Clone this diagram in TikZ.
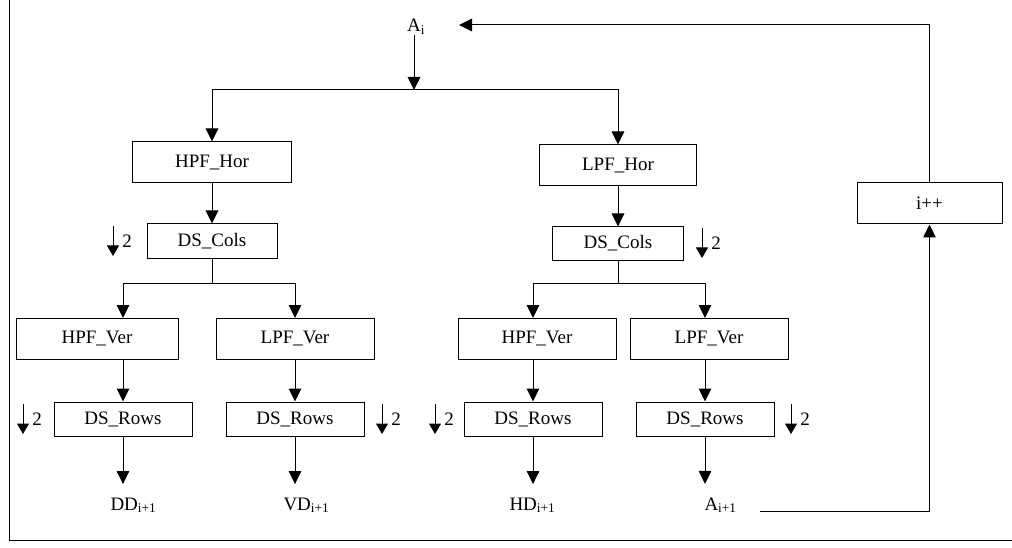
\documentclass[tikz,border=0pt]{standalone}
\usepackage{fontspec}
\setmainfont{Liberation Serif}
\usetikzlibrary{arrows.meta, positioning}

\tikzset{
  block/.style={draw, line width=1pt, inner sep=0pt},
  tip/.style={-{Triangle[length=13pt,width=12.5pt]}},
  smalltip/.style={-{Triangle[length=10.5pt,width=12pt]}},
  label/.style={inner sep=0pt, anchor=base west},
  halfmark/.style={inner sep=0pt},
}

\begin{document}
\begin{tikzpicture}[x=1pt, y=-1pt, line width=1pt, font=\fontsize{19}{22}\selectfont]

\useasboundingbox (0,0) rectangle (1012,548);
\draw (9,0) -- (9,540) -- (1012,540);

% input and first split
\node[inner sep=0pt] (Ai) at (416,27) {A\textsubscript{i}};
\coordinate (split) at (414,90);
\coordinate (back) at (459,25);

\node[block, minimum width=159pt, minimum height=41pt] (hpfhor) at (212,162.5) {HPF\_Hor};
\node[block, minimum width=157pt, minimum height=41pt] (lpfhor) at (618,165.5) {LPF\_Hor};

\node[block, minimum width=130pt, minimum height=34pt] (dscolsL) at (212,241) {DS\_Cols};
\node[block, minimum width=131pt, minimum height=33pt] (dscolsR) at (618,243.5) {DS\_Cols};

\node[block, minimum width=162pt, minimum height=41pt] (hpfverA) at (97,339) {HPF\_Ver};
\node[block, minimum width=158pt, minimum height=41pt] (lpfverA) at (295,339) {LPF\_Ver};
\node[block, minimum width=158pt, minimum height=41pt] (hpfverB) at (537,339) {HPF\_Ver};
\node[block, minimum width=158pt, minimum height=41pt] (lpfverB) at (709,339) {LPF\_Ver};

\node[block, minimum width=138pt, minimum height=34pt] (dsrowsA) at (123,419) {DS\_Rows};
\node[block, minimum width=138pt, minimum height=34pt] (dsrowsB) at (295,419) {DS\_Rows};
\node[block, minimum width=138pt, minimum height=34pt] (dsrowsC) at (533,419) {DS\_Rows};
\node[block, minimum width=138pt, minimum height=34pt] (dsrowsD) at (705,419) {DS\_Rows};

\node[label] (dd) at (110,510) {DD\textsubscript{i+1}};
\node[label] (vd) at (283,510) {VD\textsubscript{i+1}};
\node[label] (hd) at (509,510) {HD\textsubscript{i+1}};
\node[label] (anext) at (704,510) {A\textsubscript{i+1}};

\node[block, minimum width=145pt, minimum height=41pt] (ipp) at (929.5,203.5) {i++};
\coordinate (loop) at (760,511);

% downsampling marks
\node[halfmark] (two1) at (127,241) {2};
\node[halfmark] (two2) at (716,243) {2};
\node[halfmark] (two3) at (37,419) {2};
\node[halfmark] (two4) at (396,419) {2};
\node[halfmark] (two5) at (449,419) {2};
\node[halfmark] (two6) at (805,419) {2};
\foreach \m in {two1,two2,two3,two4,two5,two6}
  \draw[smalltip] ([xshift=-14pt,yshift=15pt]\m.center) -- ++(0,30);

% connectors
\draw[tip] (Ai.south -| split) -- (split);
\draw[tip] (split) -| (hpfhor.north);
\draw[tip] (split) -| (lpfhor.north);
\draw[tip] (hpfhor) -- (dscolsL);
\draw[tip] (lpfhor) -- (dscolsR);

\coordinate (forkL) at (212,283);
\coordinate (forkR) at (618,283);
\draw (dscolsL) -- (forkL);
\draw (dscolsR) -- (forkR);
\draw[tip] (forkL) -| (dsrowsA |- hpfverA.north);
\draw[tip] (forkL) -| (dsrowsB |- lpfverA.north);
\draw[tip] (forkR) -| (dsrowsC |- hpfverB.north);
\draw[tip] (forkR) -| (dsrowsD |- lpfverB.north);

\draw[tip] (dsrowsA |- hpfverA.south) -- (dsrowsA);
\draw[tip] (dsrowsB |- lpfverA.south) -- (dsrowsB);
\draw[tip] (dsrowsC |- hpfverB.south) -- (dsrowsC);
\draw[tip] (dsrowsD |- lpfverB.south) -- (dsrowsD);

\draw[tip, shorten >=13pt] (dsrowsA) -- (dsrowsA |- dd.north);
\draw[tip, shorten >=13pt] (dsrowsB) -- (dsrowsB |- vd.north);
\draw[tip, shorten >=13pt] (dsrowsC) -- (dsrowsC |- hd.north);
\draw[tip, shorten >=13pt] (dsrowsD) -- (dsrowsD |- anext.north);

% feedback
\draw[tip] (loop) -| (ipp.south);
\draw[tip] (ipp.north) |- (back);

\end{tikzpicture}
\end{document}
